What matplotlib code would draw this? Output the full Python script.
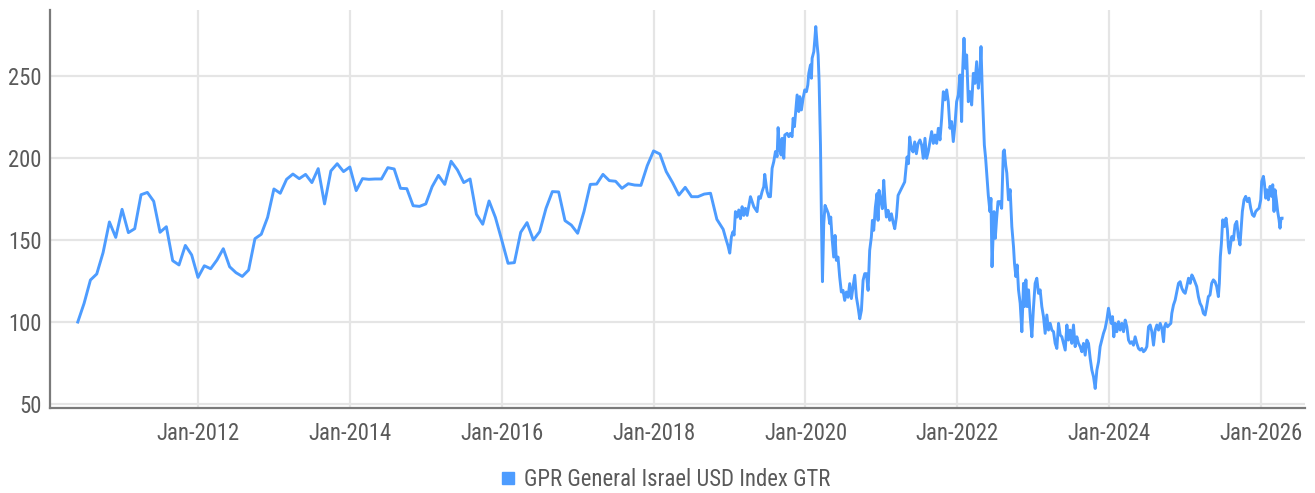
import numpy as np
import pandas as pd
import matplotlib
matplotlib.use("Agg")
import matplotlib.pyplot as plt
from matplotlib import font_manager as fm
from matplotlib.lines import Line2D

# ---------------- data ----------------
series_name = "GPR General Israel USD Index GTR"
monthly_start = "2010-06-01"
monthly_values = [
    100, 111.4, 125.6, 129.3, 142.3, 161, 151.6,
    168.7, 154.5, 156.9, 177.6, 179, 173.6, 154.7, 158.1, 137.4, 134.8, 146.7, 140.9,
    127.2, 134.3, 132.5, 137.8, 144.7, 133.7, 130.1, 127.8, 131.7, 150.8, 153.5, 163.8,
    181.1, 178.5, 187, 190.2, 187.4, 190, 185, 193.5, 172, 192.1, 196.5, 191.7,
    194.5, 180.1, 187.4, 187, 187.2, 187.2, 194.1, 193.3, 181.5, 181.3, 170.9, 170.5,
    172, 182.5, 189.4, 183.9, 198, 192.7, 185, 187.2, 165.7, 159.6, 173.8, 163.8,
    150, 135.8, 136.2, 154.7, 160.6, 150, 155.1, 169.3, 179.5, 179.3, 161.8, 159.1,
    154.1, 167.3, 183.9, 184.1, 190, 186.2, 185.8, 181.5, 184.3, 183.5, 183.3, 195.3,
    204.3, 202.4, 191.7, 185, 177.4, 182.1, 176.4, 176.4, 178, 178.5, 162.6, 156.5,
]

# higher-frequency section (decimal years, values)
daily_years = [
    2018.950, 2018.980, 2019.003, 2019.025, 2019.045, 2019.060,
    2019.078, 2019.100, 2019.122, 2019.144, 2019.166, 2019.188, 2019.210, 2019.232,
    2019.276, 2019.298, 2019.320, 2019.363, 2019.385, 2019.407, 2019.429, 2019.451,
    2019.464, 2019.482, 2019.495, 2019.517, 2019.539, 2019.561, 2019.583, 2019.605,
    2019.627, 2019.640, 2019.658, 2019.680, 2019.693, 2019.715, 2019.728, 2019.759,
    2019.781, 2019.802, 2019.824, 2019.838, 2019.855, 2019.868, 2019.890, 2019.912,
    2019.925, 2019.947, 2019.969, 2019.991, 2020.013, 2020.031, 2020.044, 2020.066,
    2020.079, 2020.088, 2020.110, 2020.123, 2020.136, 2020.154, 2020.167, 2020.180,
    2020.198, 2020.211, 2020.224,
    2020.241, 2020.258, 2020.285, 2020.302, 2020.320, 2020.333, 2020.350, 2020.372,
    2020.390, 2020.407, 2020.429, 2020.451, 2020.473, 2020.495, 2020.517, 2020.539,
    2020.561, 2020.583, 2020.605, 2020.627, 2020.649, 2020.671, 2020.693, 2020.715,
    2020.737, 2020.759, 2020.781, 2020.803, 2020.825, 2020.846, 2020.868, 2020.882,
    2020.899, 2020.921, 2020.943, 2020.956, 2020.969, 2020.991, 2021.013, 2021.031,
    2021.048, 2021.066, 2021.088, 2021.110, 2021.132, 2021.154, 2021.176, 2021.198,
    2021.220, 2021.242, 2021.263, 2021.285, 2021.307, 2021.321, 2021.338, 2021.356,
    2021.373, 2021.395, 2021.417, 2021.439, 2021.461, 2021.483,
    2021.508, 2021.530, 2021.552, 2021.574, 2021.596, 2021.618, 2021.640, 2021.662,
    2021.684, 2021.706, 2021.728, 2021.750, 2021.772, 2021.794, 2021.816, 2021.838,
    2021.860, 2021.881, 2021.903, 2021.925, 2021.947, 2021.969, 2021.991, 2022.013,
    2022.035, 2022.057, 2022.070, 2022.088, 2022.105, 2022.123, 2022.145, 2022.167,
    2022.189, 2022.211, 2022.233, 2022.255, 2022.277, 2022.299, 2022.312, 2022.329,
    2022.342, 2022.356, 2022.373, 2022.386, 2022.408, 2022.430, 2022.443, 2022.457,
    2022.470, 2022.483, 2022.500, 2022.518, 2022.536, 2022.562, 2022.584, 2022.606,
    2022.619, 2022.637,
    2022.652, 2022.674, 2022.696, 2022.718, 2022.740, 2022.753, 2022.771, 2022.788,
    2022.806, 2022.828, 2022.850, 2022.872, 2022.885, 2022.903, 2022.920, 2022.938,
    2022.960, 2022.982, 2023.004, 2023.025, 2023.047, 2023.069, 2023.091, 2023.113,
    2023.135, 2023.157, 2023.179, 2023.201, 2023.223, 2023.245, 2023.267, 2023.289,
    2023.311, 2023.333, 2023.355, 2023.377, 2023.399, 2023.421, 2023.443, 2023.464,
    2023.486, 2023.508, 2023.530, 2023.552, 2023.574, 2023.596, 2023.618, 2023.640,
    2023.662, 2023.684, 2023.706, 2023.728, 2023.750, 2023.772, 2023.794, 2023.816,
    2023.838, 2023.860, 2023.881, 2023.903, 2023.925, 2023.947, 2023.969, 2023.991,
    2024.026, 2024.044, 2024.061, 2024.079, 2024.101, 2024.123, 2024.145, 2024.167,
    2024.189, 2024.211, 2024.233, 2024.255, 2024.277, 2024.299, 2024.320, 2024.342,
    2024.364, 2024.386, 2024.408, 2024.430, 2024.452, 2024.474, 2024.496, 2024.518,
    2024.540, 2024.562, 2024.584, 2024.606, 2024.628, 2024.650, 2024.672, 2024.694,
    2024.716, 2024.729, 2024.746, 2024.768, 2024.790, 2024.812, 2024.825, 2024.847,
    2024.869, 2024.891, 2024.913, 2024.935, 2024.957, 2024.979, 2025.001, 2025.022,
    2025.045, 2025.067, 2025.089, 2025.111,
    2025.153, 2025.175, 2025.197, 2025.219, 2025.241, 2025.263, 2025.284, 2025.306,
    2025.328, 2025.350, 2025.372, 2025.394, 2025.416, 2025.438, 2025.451, 2025.464,
    2025.478, 2025.495, 2025.517, 2025.539, 2025.557, 2025.570, 2025.583, 2025.601,
    2025.614, 2025.636, 2025.658, 2025.680, 2025.701, 2025.723, 2025.737, 2025.754,
    2025.776, 2025.798, 2025.820, 2025.842, 2025.864, 2025.886, 2025.908, 2025.930,
    2025.952, 2025.974, 2025.996, 2026.009, 2026.031, 2026.044, 2026.061, 2026.079,
    2026.097, 2026.119, 2026.140, 2026.154, 2026.171, 2026.184, 2026.202, 2026.219,
    2026.237, 2026.250, 2026.263, 2026.277,
]
daily_values = [
    151, 146.5, 142, 152, 155, 153,
    167.3, 164, 168.3, 163, 170.3, 165, 169.3, 165,
    176.4, 173.4, 170.3, 167.3, 176.4, 175.4, 179.5, 182.5,
    190, 183.5, 179.5, 176.4, 176.4, 193.7, 197.8, 203.9,
    200.8, 218.5, 205.9, 201.8, 212, 199.8, 214, 215,
    213, 215, 213, 224.2, 219.1, 226.2, 238.4, 228.3,
    237.4, 229.3, 236.4, 241.5, 240.4, 244.5, 251.6, 256.7,
    248.6, 260.8, 264.8, 272, 280.1, 268.9, 262.8, 246.5,
    207.9, 161.2, 124.6,
    160, 171.1, 168.1, 166, 160, 164, 151.8, 139.6,
    152.8, 137.6, 139.6, 127.4, 118.3, 119.3, 113.2, 118.3,
    115.1, 123.4, 114.3, 121.3, 128.5, 115.2, 109.1, 102,
    107.1, 125.4, 129.5, 129.5, 119.3, 143.7, 151.8, 162,
    155.9, 170.1, 178.3, 162, 180.3, 174.2, 169.1, 186.4,
    173.2, 164, 168.1, 162, 166, 161, 156.9, 164,
    177.2, 179.3, 181.3, 183.3, 185.4, 192.5, 200.6, 196.5,
    212.8, 205.7, 203.7, 209.8, 202.6, 208.7,
    211, 207.9, 199.8, 212, 199.8, 203.9, 210, 216.1,
    208.9, 214, 208.9, 218.1, 211, 224.2, 240.4, 235.4,
    241.5, 234.3, 218.1, 222.2, 210, 220.1, 234.3, 238.4,
    250.6, 222.2, 252.6, 273, 254.7, 262.8, 234.3, 240.4,
    232.3, 251.6, 245.5, 258.7, 242.5, 252.6, 267.9, 240.4,
    224.2, 207.9, 199.8, 191.7, 177.4, 167.3, 175.4, 133.7,
    151, 167.3, 151, 163.2, 173.4, 173.4, 169.3, 203.9,
    204.9, 195.7,
    190.8, 174.5, 180.7, 158.2, 146, 135.8, 127.7, 134.8,
    119.6, 111.4, 94.1, 123.6, 109.4, 125.7, 109.4, 119.6,
    103.3, 91, 109.4, 123.6, 126.7, 117.5, 119.6, 109.4,
    103.3, 93.1, 104.3, 95.1, 99.2, 95.1, 94.1, 87,
    83.9, 99.2, 92.1, 91, 87, 82.9, 98.2, 89,
    95.1, 87, 98.2, 85, 91, 87, 85, 81.9,
    87, 79.8, 89, 87, 77.8, 70.7, 66.6, 59.5,
    70.7, 75.8, 85, 89, 93.1, 96.1, 101.2, 108.4,
    99.2, 103.3, 91, 99.2, 94.1, 100.2, 95.1, 99.2,
    94.1, 101.2, 97.1, 89, 87, 88, 85.9, 91,
    87, 83.9, 82.9, 83.9, 81.9, 82.9, 85, 97.1,
    98.2, 94.1, 85.9, 95.1, 98.2, 95.1, 99.2, 96.1,
    88, 97.1, 99.2, 97.1, 98.2, 99.2, 105.3, 110.4,
    113.4, 118.5, 123.6, 124.6, 120.6, 118.5, 117.5, 121.6,
    126.7, 123.6, 128.7, 126.7,
    121.6, 115.5, 111.4, 109.4, 105.3, 104.3, 109.4, 115.5,
    116.5, 123.6, 125.7, 124.6, 121.6, 115.5, 123.6, 139.8,
    148, 162.3, 158.2, 163.3, 156.2, 146, 142, 148,
    152.1, 150, 159.3, 161.3, 152.1, 147, 156.2, 167.4,
    174.5, 176.6, 173.4, 175.5, 169.4, 165.4, 164.4, 167.4,
    168.5, 169.4, 174.5, 185.7, 188.8, 184.7, 175.5, 180.6,
    174.5, 182.7, 176.6, 183.7, 167.4, 180.6, 174.5, 167.4,
    162.3, 157.2, 163.3, 163.3,
]

tick_years = [2012, 2014, 2016, 2018, 2020, 2022, 2024, 2026]
tick_labels = ["Jan-2012", "Jan-2014", "Jan-2016", "Jan-2018",
               "Jan-2020", "Jan-2022", "Jan-2024", "Jan-2026"]
y_ticks = [50, 100, 150, 200, 250]

# ---------------- build series ----------------
mdates = pd.date_range(monthly_start, periods=len(monthly_values), freq="MS")
m_years = mdates.year + (mdates.month - 1) / 12.0
x = np.concatenate([np.asarray(m_years, float), np.asarray(daily_years, float)])
y = np.concatenate([np.asarray(monthly_values, float), np.asarray(daily_values, float)])

# ---------------- font choice ----------------
names = {f.name for f in fm.fontManager.ttflist}
preferred = ["Roboto Condensed", "Liberation Sans Narrow", "Open Sans Condensed",
             "Noto Sans Condensed", "DejaVu Sans Condensed", "Roboto"]
main_font = next((n for n in preferred if n in names), "DejaVu Sans")
plt.rcParams["font.family"] = [main_font, "DejaVu Sans"]

TXT = "#5a5a5a"
GRID = "#e5e5e5"
SPINE = "#7a7a7a"
LINE = "#4d9cff"

fig = plt.figure(figsize=(13.15, 4.93), dpi=100)

# fit font size so that "Jan-2012" is ~83 px wide (as in the reference)
renderer = fig.canvas.get_renderer()
probe = fig.text(0, 0, "Jan-2012", fontsize=10)
w10 = probe.get_window_extent(renderer).width
probe.remove()
fsize = min(17.5, 10 * 83.0 / w10)

ax = fig.add_axes([50 / 1315, 1 - 408 / 493, 1255 / 1315, 398 / 493])

ax.plot(x, y, color=LINE, lw=2.1, solid_joinstyle="round", zorder=3)

ax.set_xlim(2010.051, 2026.579)
ax.set_ylim(47.6, 290.2)
ax.set_xticks(tick_years)
ax.set_xticklabels(tick_labels)
ax.set_yticks(y_ticks)

ax.grid(True, color=GRID, lw=1.6, zorder=0)
ax.set_axisbelow(True)
for s in ("top", "right"):
    ax.spines[s].set_visible(False)
ax.spines["left"].set_color(SPINE)
ax.spines["left"].set_linewidth(1.6)
ax.spines["bottom"].set_color(SPINE)
ax.spines["bottom"].set_linewidth(1.6)

ax.tick_params(axis="both", length=0, labelsize=fsize, labelcolor=TXT)
ax.tick_params(axis="x", pad=10)
ax.tick_params(axis="y", pad=6)

handle = Line2D([], [], marker="s", color=LINE, linestyle="none", markersize=8)
fig.legend([handle], [series_name], loc="center",
           bbox_to_anchor=(664 / 1315, 1 - 479 / 493), frameon=False,
           fontsize=fsize, labelcolor=TXT, handletextpad=0.25, handlelength=0.9,
           borderpad=0)

fig.savefig("out.png", dpi=100)
